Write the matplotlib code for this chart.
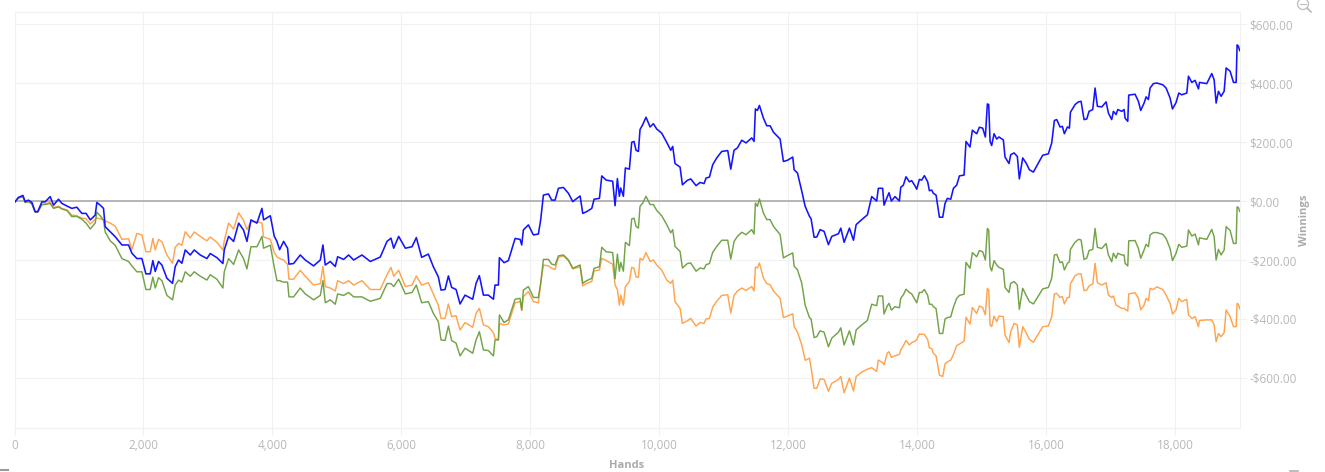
#!/usr/bin/env python3

import matplotlib
matplotlib.use('Agg')
import matplotlib.pyplot as plt
from matplotlib.lines import Line2D
from matplotlib.patches import Ellipse
from matplotlib.ticker import FuncFormatter

hands = [
    0, 60, 130, 165, 217, 270, 320, 360, 425, 475,
    553, 605, 682, 734, 812, 889, 966, 1044, 1110, 1175,
    1251, 1277, 1329, 1380, 1406, 1484, 1561, 1665, 1768, 1820,
    1897, 1975, 2037, 2104, 2145, 2182, 2233, 2285, 2363, 2450,
    2492, 2544, 2595, 2647, 2725, 2787, 2880, 2983, 3035, 3138,
    3231, 3252, 3319, 3397, 3475, 3550, 3604, 3666, 3759, 3836,
    3862, 3966, 4028, 4069, 4110, 4172, 4234, 4255, 4327, 4430,
    4508, 4637, 4741, 4782, 4818, 4896, 4973, 5010, 5103, 5180,
    5258, 5387, 5516, 5671, 5775, 5837, 5879, 5956, 6060, 6163,
    6230, 6313, 6416, 6494, 6571, 6613, 6675, 6727, 6778, 6846,
    6908, 6985, 7104, 7156, 7207, 7270, 7347, 7425, 7450, 7502,
    7518, 7590, 7657, 7761, 7838, 7864, 7890, 7967, 8045, 8122,
    8158, 8200, 8278, 8329, 8381, 8433, 8510, 8588, 8655, 8769,
    8810, 8872, 8950, 8986, 9069, 9105, 9172, 9274, 9311, 9347,
    9378, 9399, 9440, 9471, 9533, 9569, 9605, 9636, 9673, 9698,
    9740, 9791, 9854, 9905, 9957, 10034, 10112, 10174, 10205, 10241,
    10319, 10355, 10432, 10484, 10567, 10629, 10691, 10722, 10774, 10825,
    10887, 10965, 11058, 11105, 11156, 11208, 11275, 11342, 11430, 11466,
    11487, 11518, 11549, 11611, 11663, 11715, 11767, 11870, 11921, 11984,
    12066, 12087, 12139, 12206, 12258, 12325, 12350, 12397, 12438, 12490,
    12552, 12619, 12671, 12774, 12811, 12862, 12945, 13007, 13049, 13136,
    13223, 13290, 13367, 13393, 13460, 13481, 13533, 13559, 13595, 13652,
    13719, 13740, 13781, 13822, 13874, 13910, 13962, 13988, 14029, 14065,
    14107, 14158, 14184, 14220, 14246, 14288, 14340, 14391, 14427, 14463,
    14515, 14557, 14608, 14650, 14722, 14752, 14814, 14850, 14918, 14959,
    15011, 15052, 15083, 15104, 15125, 15150, 15187, 15228, 15264, 15331,
    15357, 15419, 15445, 15497, 15548, 15579, 15631, 15683, 15735, 15797,
    15874, 15941, 16029, 16081, 16122, 16159, 16210, 16246, 16277, 16324,
    16355, 16371, 16443, 16495, 16536, 16582, 16624, 16660, 16717, 16753,
    16789, 16857, 16924, 16960, 17011, 17037, 17079, 17105, 17167, 17203,
    17218, 17260, 17275, 17373, 17425, 17461, 17513, 17544, 17580, 17606,
    17658, 17710, 17803, 17854, 17916, 17953, 18009, 18051, 18097, 18175,
    18201, 18253, 18304, 18356, 18372, 18485, 18562, 18599, 18630, 18666,
    18707, 18754, 18785, 18847, 18899, 18940, 18955, 18975, 18995,
]

blue_winnings = [
    -5, 12, 19, -2, 3, -5, -36, -36, -3, -3,
    15, -14, 6, -8, -17, -25, -21, -42, -42, -64,
    -48, -5, -14, -25, -87, -104, -121, -149, -149, -177,
    -195, -195, -247, -247, -202, -239, -205, -217, -262, -279,
    -222, -200, -211, -166, -183, -166, -183, -195, -178, -192,
    -212, -166, -120, -137, -75, -98, -137, -64, -75, -25,
    -64, -50, -120, -137, -165, -137, -160, -214, -212, -183,
    -200, -220, -200, -149, -217, -205, -222, -189, -198, -183,
    -200, -183, -205, -190, -137, -126, -160, -120, -160, -155,
    -124, -191, -180, -223, -257, -302, -300, -254, -293, -300,
    -349, -319, -333, -279, -253, -319, -319, -333, -285, -285,
    -192, -209, -202, -127, -130, -149, -98, -81, -115, -112,
    -64, 20, 24, 3, 3, 43, 46, 26, -2, 17,
    -42, -36, -25, 6, 9, 85, 71, 67, -16, 76,
    16, 44, 16, 112, 108, 199, 202, 172, 168, 242,
    259, 284, 251, 262, 244, 230, 199, 172, 185, 127,
    115, 55, 70, 75, 52, 63, 59, 78, 81, 123,
    146, 168, 171, 108, 172, 180, 206, 197, 214, 202,
    312, 307, 324, 281, 255, 255, 233, 210, 134, 138,
    149, 106, 95, 33, -18, -52, -60, -123, -122, -97,
    -103, -148, -120, -111, -92, -140, -92, -133, -80, -63,
    -47, 15, 0, 43, 43, -14, 15, 28, 0, 15,
    0, 46, 54, 82, 65, 69, 51, 40, 73, 71,
    86, 65, 35, 37, 26, 20, -55, -55, -8, 9,
    6, 43, 54, 85, 88, 202, 183, 240, 228, 250,
    247, 217, 329, 327, 202, 188, 228, 210, 217, 207,
    149, 127, 157, 163, 151, 75, 146, 129, 106, 98,
    129, 155, 160, 197, 273, 276, 251, 253, 228, 251,
    247, 301, 327, 336, 338, 276, 278, 304, 310, 383,
    321, 319, 336, 298, 276, 304, 293, 310, 304, 310,
    281, 270, 359, 362, 338, 307, 332, 353, 344, 383,
    398, 400, 394, 383, 349, 312, 334, 366, 360, 366,
    423, 402, 409, 380, 402, 398, 432, 411, 332, 372,
    355, 372, 451, 440, 402, 402, 529, 525, 510,
]

green_winnings = [
    -5, 10, 15, -5, -2, -10, -38, -38, -12, -12,
    -8, -25, -20, -27, -32, -53, -52, -62, -75, -95,
    -75, -38, -50, -65, -105, -135, -150, -195, -205, -220,
    -240, -240, -300, -300, -258, -295, -260, -270, -320, -335,
    -285, -268, -275, -240, -255, -240, -255, -268, -250, -265,
    -295, -240, -195, -215, -166, -195, -230, -155, -155, -120,
    -160, -150, -225, -270, -270, -275, -275, -325, -325, -295,
    -315, -335, -320, -270, -345, -335, -350, -315, -320, -310,
    -325, -325, -340, -330, -280, -280, -290, -265, -315, -310,
    -285, -345, -341, -381, -409, -471, -473, -424, -473, -482,
    -525, -499, -516, -471, -443, -505, -507, -525, -471, -471,
    -386, -412, -403, -333, -330, -370, -302, -290, -327, -327,
    -279, -198, -198, -214, -217, -186, -183, -200, -228, -217,
    -279, -270, -262, -228, -223, -157, -172, -175, -264, -180,
    -238, -208, -238, -140, -151, -61, -58, -86, -92, -18,
    -7, 16, -12, -12, -32, -50, -80, -108, -97, -154,
    -171, -227, -212, -210, -238, -227, -230, -216, -212, -174,
    -154, -133, -133, -197, -137, -120, -106, -114, -97, -112,
    -7, -18, 7, -41, -63, -63, -86, -114, -193, -185,
    -176, -221, -233, -279, -353, -395, -400, -463, -460, -440,
    -445, -494, -465, -445, -430, -488, -440, -488, -437, -420,
    -405, -350, -355, -322, -322, -383, -355, -347, -370, -358,
    -362, -330, -318, -299, -310, -315, -335, -345, -310, -310,
    -300, -320, -350, -350, -358, -365, -449, -449, -400, -395,
    -393, -360, -330, -320, -316, -208, -228, -175, -189, -168,
    -172, -200, -93, -98, -223, -237, -202, -217, -225, -232,
    -293, -310, -279, -273, -285, -367, -296, -319, -341, -349,
    -322, -298, -293, -262, -183, -181, -209, -206, -234, -211,
    -206, -164, -140, -130, -132, -198, -194, -168, -164, -93,
    -157, -161, -144, -183, -206, -177, -194, -177, -183, -183,
    -211, -220, -135, -134, -161, -194, -166, -147, -155, -115,
    -107, -107, -113, -127, -161, -202, -177, -147, -157, -153,
    -98, -119, -112, -149, -125, -130, -96, -121, -200, -164,
    -183, -166, -87, -100, -144, -144, -20, -22, -35,
]

orange_winnings = [
    -5, 10, 15, -5, -2, -10, -38, -38, -12, -10,
    -5, -22, -18, -25, -30, -48, -50, -58, -60, -78,
    -62, -58, -60, -65, -68, -75, -85, -130, -128, -165,
    -110, -115, -172, -172, -127, -166, -130, -138, -183, -211,
    -157, -144, -150, -104, -125, -105, -120, -135, -122, -140,
    -166, -135, -75, -95, -40, -65, -97, -70, -70, -75,
    -122, -130, -175, -190, -195, -200, -215, -265, -265, -235,
    -255, -285, -280, -222, -290, -295, -305, -270, -280, -270,
    -285, -270, -300, -300, -250, -225, -255, -235, -290, -285,
    -254, -285, -277, -315, -353, -398, -398, -349, -392, -389,
    -437, -412, -428, -381, -364, -420, -426, -446, -466, -471,
    -415, -420, -417, -345, -341, -370, -324, -307, -341, -345,
    -279, -217, -220, -228, -232, -191, -186, -202, -230, -223,
    -288, -279, -273, -237, -234, -194, -202, -214, -285, -300,
    -353, -319, -353, -290, -273, -225, -228, -257, -259, -194,
    -200, -175, -205, -200, -217, -234, -268, -279, -268, -341,
    -364, -415, -406, -398, -424, -412, -415, -400, -398, -360,
    -340, -320, -318, -380, -320, -305, -295, -303, -290, -305,
    -224, -227, -210, -261, -280, -284, -305, -330, -395, -390,
    -382, -425, -445, -488, -540, -533, -565, -635, -635, -603,
    -605, -645, -618, -605, -595, -650, -600, -644, -595, -580,
    -570, -565, -578, -539, -548, -555, -515, -511, -530, -525,
    -520, -505, -490, -473, -488, -480, -475, -470, -451, -452,
    -452, -470, -498, -500, -516, -525, -590, -595, -552, -545,
    -540, -520, -490, -485, -475, -394, -417, -361, -381, -356,
    -361, -386, -296, -302, -420, -426, -390, -409, -390, -392,
    -454, -480, -443, -415, -420, -496, -426, -446, -469, -479,
    -451, -426, -424, -392, -315, -313, -327, -324, -349, -327,
    -327, -281, -253, -247, -247, -304, -302, -288, -281, -211,
    -277, -285, -277, -319, -327, -322, -353, -356, -364, -364,
    -367, -373, -315, -311, -330, -369, -353, -330, -338, -296,
    -300, -291, -300, -319, -347, -383, -369, -330, -341, -333,
    -386, -398, -392, -426, -405, -403, -403, -420, -477, -449,
    -460, -446, -369, -392, -426, -426, -347, -350, -365,
]

x_ticks = [0, 2000, 4000, 6000, 8000, 10000, 12000, 14000, 16000, 18000]
y_ticks = [-600, -400, -200, 0, 200, 400, 600]

W, H = 1325, 472
GRID = '#f1f1f1'
TEXT = '#b8b8b8'


def money(v, pos):
    return '-${:,.2f}'.format(-v) if v < 0 else '${:,.2f}'.format(v)


plt.rcParams['font.family'] = ['Open Sans', 'DejaVu Sans']

fig = plt.figure(figsize=(W / 100, H / 100), dpi=100)
ax = fig.add_axes([14.5 / W, 1 - 428 / H, (1240 - 14.5) / W, (428 - 12) / H])

ax.plot(hands, orange_winnings, color='#ff9f45', lw=1.05, alpha=0.95, zorder=3)
ax.plot(hands, green_winnings, color='#6b9e3f', lw=1.05, alpha=0.95, zorder=4)
ax.plot(hands, blue_winnings, color='#1414ff', lw=1.15, zorder=5)
ax.axhline(0, color='#ababab', lw=1.2, zorder=2)

ax.set_xlim(0, 19000)
ax.set_ylim(-769.5, 640.7)
ax.set_xticks(x_ticks)
ax.set_yticks(y_ticks)
ax.xaxis.set_major_formatter(FuncFormatter(lambda v, pos: '{:,.0f}'.format(v)))
ax.yaxis.set_major_formatter(FuncFormatter(money))
ax.yaxis.tick_right()
ax.grid(True, color=GRID, lw=0.75)
ax.set_axisbelow(True)
ax.tick_params(axis='x', colors=GRID, labelcolor=TEXT, labelsize=8.5, length=5, width=0.75, pad=3)
ax.tick_params(axis='y', colors=GRID, labelcolor=TEXT, labelsize=8.5, length=5, width=0.75, pad=2)
for spine in ax.spines.values():
    spine.set_color(GRID)
    spine.set_linewidth(0.75)

fig.text(627 / W, 1 - 466 / H, 'Hands', color='#aaaaaa', fontsize=8, fontweight='bold',
         ha='center', va='center')
fig.text(1305 / W, 1 - 220 / H, 'Winnings', color='#aaaaaa', fontsize=8, fontweight='bold',
         rotation=90, ha='center', va='center')

# zoom icon in the top right corner
fig.add_artist(Ellipse((1303 / W, 1 - 4 / H), 11 / W, 11 / H, transform=fig.transFigure,
                       fill=False, ec='#bdbdbd', lw=0.9))
fig.add_artist(Line2D([1307 / W, 1311 / W], [1 - 8 / H, 1 - 12 / H], color='#bdbdbd', lw=1.3))
fig.add_artist(Line2D([1300 / W, 1306 / W], [1 - 4 / H, 1 - 4 / H], color='#bdbdbd', lw=0.8))

# bits of the toolbar icons cut off by the bottom edge
fig.add_artist(Line2D([0, 8 / W], [1 - 470 / H, 1 - 470 / H], color='#9a9a9a', lw=1.5))
fig.add_artist(Line2D([1290 / W, 1298 / W], [1 - 471 / H, 1 - 471 / H], color='#b0b0b0', lw=1.2))

fig.savefig('out.png', dpi=100)
